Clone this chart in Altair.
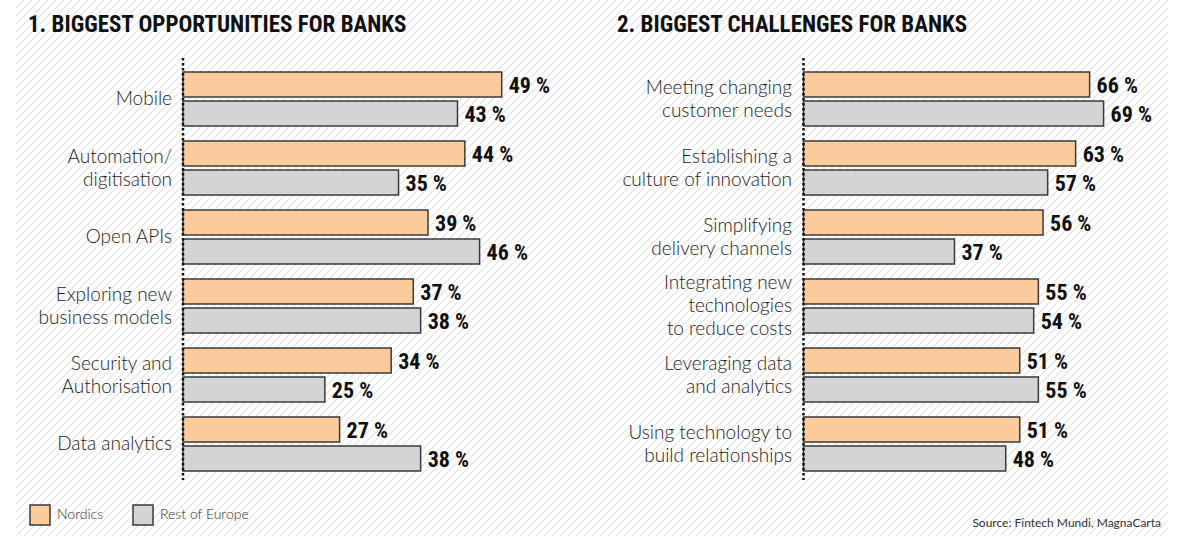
import altair as alt
import pandas as pd

# ---- data -------------------------------------------------------------
series = ["Nordics", "Rest of Europe"]

opp_labels = [
    "Mobile",
    "Automation/\ndigitisation",
    "Open APIs",
    "Exploring new\nbusiness models",
    "Security and\nAuthorisation",
    "Data analytics",
]
opp_nordics = [49, 44, 39, 37, 34, 27]
opp_rest = [43, 35, 46, 38, 25, 38]

chl_labels = [
    "Meeting changing\ncustomer needs",
    "Establishing a\nculture of innovation",
    "Simplifying\ndelivery channels",
    "Integrating new\ntechnologies\nto reduce costs",
    "Leveraging data\nand analytics",
    "Using technology to\nbuild relationships",
]
chl_nordics = [66, 63, 56, 55, 51, 51]
chl_rest = [69, 57, 37, 54, 55, 48]

title_left = "1. BIGGEST OPPORTUNITIES FOR BANKS"
title_right = "2. BIGGEST CHALLENGES FOR BANKS"
source_text = "Source: Fintech Mundi, MagnaCarta"

# ---- styling ----------------------------------------------------------
W, H = 1200, 548
FILL = {"Nordics": "#fccb9b", "Rest of Europe": "#d4d4d6"}
EDGE = "#3a3a3a"
BOLD_FONT = "Roboto Condensed, Liberation Sans Narrow, DejaVu Sans Condensed, sans-serif"
LIGHT_FONT = "Lato, Open Sans, sans-serif"
BAND_RANGE = [72, 471]
LINE_H = 23


def long_table(labels, nordics, rest):
    rows = []
    for i, lab in enumerate(labels):
        for s, v in zip(series, (nordics[i], rest[i])):
            rows.append({"cat": i, "label": lab, "series": s, "value": v})
    df = pd.DataFrame(rows)
    df["pct"] = df["value"].astype(str) + " %"
    df["nlines"] = df["label"].str.count("\n") + 1
    return df


def y_enc(n, band=False):
    kw = dict(domain=list(range(n)), range=BAND_RANGE,
              paddingInner=15 / 69, paddingOuter=0)
    if band:
        kw["type"] = "band"
    return alt.Y("cat:N", scale=alt.Scale(**kw), axis=None)


def yoff_enc(band=False):
    kw = dict(domain=series, paddingInner=4 / 29, paddingOuter=0)
    if band:
        kw["type"] = "band"
    return alt.YOffset("series:N", scale=alt.Scale(**kw))


def panel(labels, nordics, rest, base, x_range, label_x, legend):
    df = long_table(labels, nordics, rest)
    top = max(nordics + rest)
    xs = alt.Scale(domain=[base, top], range=x_range, zero=False, nice=False)
    n = len(labels)

    color = alt.Color(
        "series:N",
        scale=alt.Scale(domain=series, range=[FILL[s] for s in series]),
        legend=alt.Legend(
            title=None, orient="none", legendX=29, legendY=504,
            direction="horizontal", symbolType="square", symbolSize=400,
            symbolStrokeColor=EDGE, symbolStrokeWidth=1.5,
            labelFont=LIGHT_FONT, labelFontSize=14, labelFontWeight=300,
            labelColor="#333333", labelOffset=6, columnPadding=26,
        ) if legend else None,
    )

    bars = alt.Chart(df).mark_bar(stroke=EDGE, strokeWidth=1.5).encode(
        x=alt.X("value:Q", scale=xs, axis=None),
        x2=alt.datum(base),
        y=y_enc(n),
        yOffset=yoff_enc(),
        color=color,
    )

    values = alt.Chart(df).mark_text(
        align="left", baseline="middle", dx=7, dy=1,
        font=BOLD_FONT, fontWeight="bold", fontSize=22, color="#111111",
    ).encode(
        x=alt.X("value:Q", scale=xs, axis=None),
        y=y_enc(n, band=True),
        yOffset=yoff_enc(band=True),
        text="pct:N",
    )

    # category names, one layer per line count so each block is centred
    first = df[df["series"] == "Nordics"]
    cats = []
    for k in sorted(first["nlines"].unique()):
        cats.append(
            alt.Chart(first[first["nlines"] == k]).mark_text(
                align="right", baseline="middle", lineBreak="\n",
                lineHeight=LINE_H, dy=-(k - 1) * LINE_H / 2,
                font=LIGHT_FONT, fontWeight=300, fontSize=19, color="#1f1f1f",
            ).encode(
                x=alt.value(label_x),
                y=y_enc(n, band=True),
                text="label:N",
            )
        )

    axis_line = alt.Chart(pd.DataFrame({"v": [base]})).mark_rule(
        color="#111111", strokeWidth=2.5, strokeDash=[2.5, 2.5],
    ).encode(
        x=alt.X("v:Q", scale=xs, axis=None),
        y=alt.value(58),
        y2=alt.value(480),
    )

    return [bars, values, *cats, axis_line]


# diagonal hatch behind everything
px_x = alt.Scale(domain=[0, W], range=[0, W])
px_y = alt.Scale(domain=[0, H], range=[0, H])
HX0, HX1, HY1 = 16, 1168, 535
hatch = (
    alt.Chart(alt.sequence(HX0 - HY1, HX1, 8, as_="a"))
    .transform_calculate(
        xs=f"max(datum.a, {HX0})",
        xe=f"min(datum.a + {HY1}, {HX1})",
    )
    .transform_calculate(
        ys=f"{HY1} - (datum.xs - datum.a)",
        ye=f"{HY1} - (datum.xe - datum.a)",
    )
    .transform_filter("datum.xs < datum.xe")
    .mark_rule(color="#e6e6e6", strokeWidth=1.3)
    .encode(
        x=alt.X("xs:Q", scale=px_x, axis=None),
        x2="xe:Q",
        y=alt.Y("ys:Q", scale=px_y, axis=None),
        y2="ye:Q",
    )
)


def text_layer(txt, x, y, align, font, size, weight, color):
    return alt.Chart(pd.DataFrame({"t": [txt]})).mark_text(
        align=align, baseline="alphabetic", font=font, fontSize=size,
        fontWeight=weight, color=color,
    ).encode(x=alt.value(x), y=alt.value(y), text="t:N")


titles = [
    text_layer(title_left, 28, 32, "left", BOLD_FONT, 23, "bold", "#111111"),
    text_layer(title_right, 617, 32, "left", BOLD_FONT, 23, "bold", "#111111"),
    text_layer(source_text, 1161, 527, "right", LIGHT_FONT, 12, "normal", "#333333"),
]

left = panel(opp_labels, opp_nordics, opp_rest, 5.75, [183, 501.7], 172, True)
right = panel(chl_labels, chl_nordics, chl_rest, 4.6, [803.5, 1103.6], 792, False)

chart = (
    alt.layer(hatch, *left, *right, *titles)
    .resolve_scale(x="independent", y="independent")
    .properties(width=W, height=H, padding=0,
                autosize=alt.AutoSizeParams(type="none"), background="white")
    .configure_view(stroke=None)
)

chart.save("out.html", embed_options={"renderer": "svg", "actions": False})
